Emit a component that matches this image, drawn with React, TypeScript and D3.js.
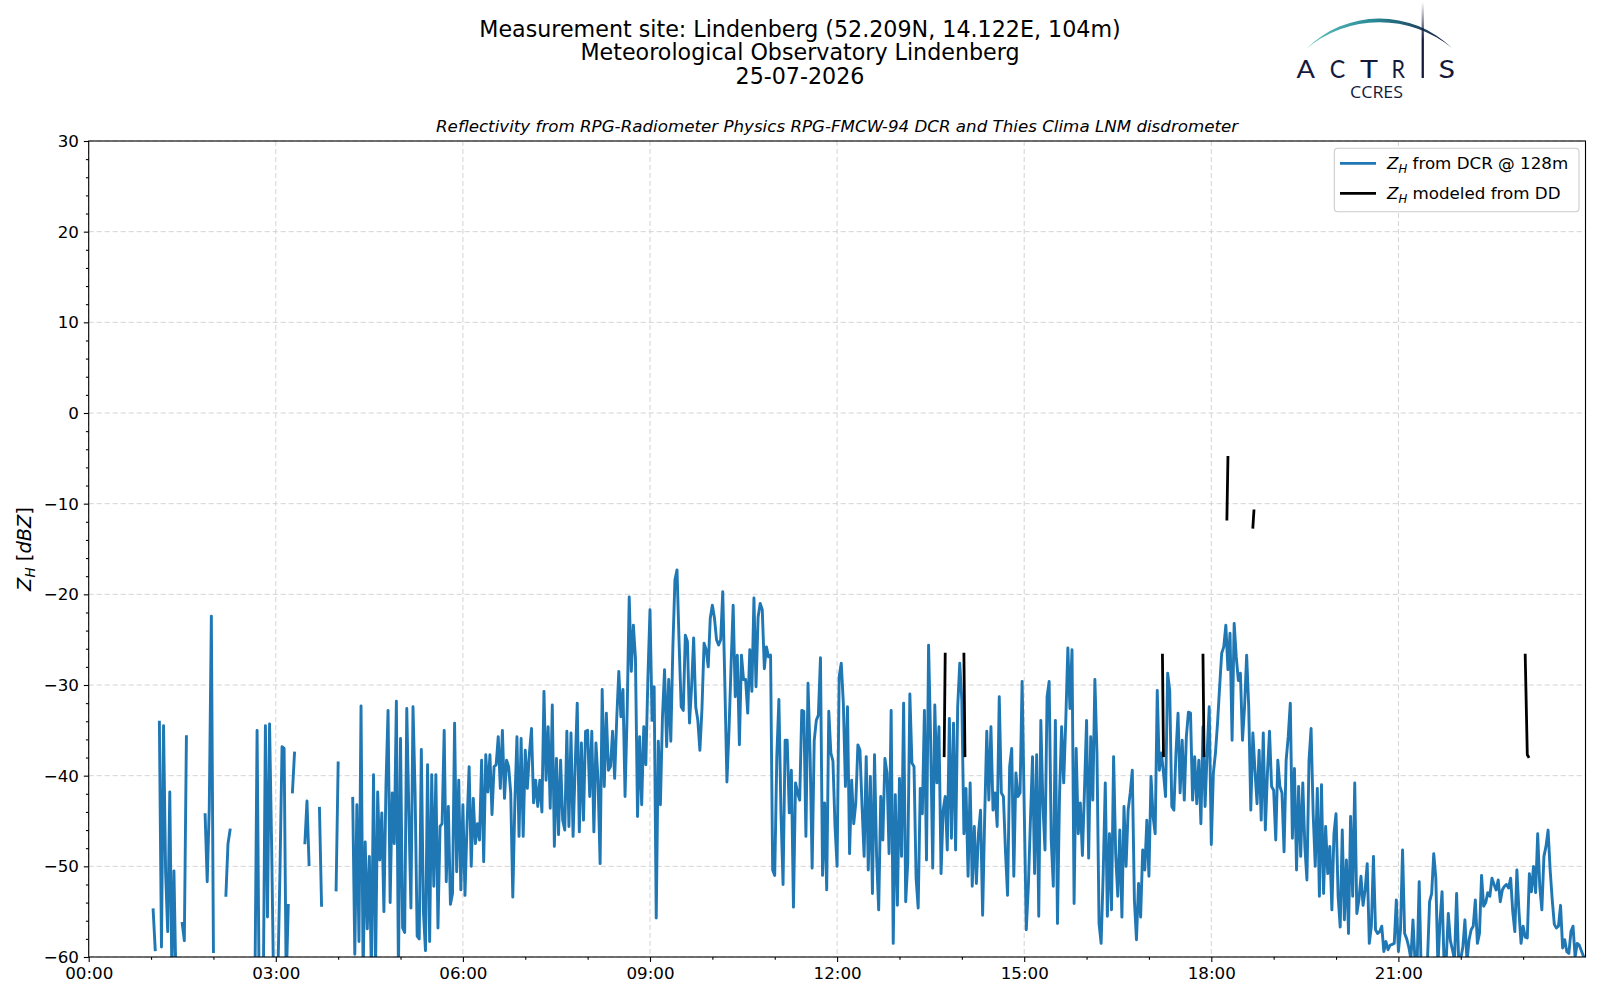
import React, { useRef, useEffect } from "react";
import * as d3 from "d3";

// DCR reflectivity at 128 m [dBZ], 2-minute steps, one array per hour (null = no echo)
const stepMinutes = 2;
const dcrFirstHour = 1;
const dcr01 = [null, -54.8, -59.2, null, -34.1, -58.9, -34.5, -50.7, -57.2, -41.8, -62, -50.5, -63, null, null, -56.3, -58.2, -35.7, null, null, null, null, null, null, null, null, -44.3, -51.7, -43.5, -22.4];
const dcr02 = [-59.4, null, null, null, null, null, -53.2, -47.5, -46.0, null, null, null, null, null, null, null, null, null, null, null, -62, -35.0, -64, -64, -63, -34.5, -55.6, -34.3, -47.8, -64];
const dcr03 = [-64, -62, -50.6, -36.8, -37, -63, -54.3, null, -41.8, -37.5, null, null, null, null, -47.4, -42.8, -49.8, null, null, null, null, -43.6, -54.3, null, null, null, null, null, null, -52.6];
const dcr04 = [-38.6, null, null, null, null, null, null, -42.5, -59.7, -43.2, -58.3, -32.3, -62, -47.3, -56.9, -48.9, -62, -39.9, -61, -41.8, -49.3, -44.1, -55, -41, -32.8, -54, -41.9, -47.5, -31.8, -62];
const dcr05 = [-35.9, -56.8, -57.3, -32.6, -44.1, -54.6, -32.4, -41.8, -57.7, -58, -37.1, -55, -59.3, -38.8, -58.3, -39.9, -52.2, -39.9, -56.8, -45.6, -45.3, -35, -51.7, -43.4, -54.2, -53, -34.2, -50.6, -40.5, -52.6];
const dcr06 = [-43.2, -53.2, -45.3, -39, -50, -42.5, -47.5, -45.3, -47.1, -38.3, -49.5, -37.7, -41.8, -37.7, -44.3, -39, -38.8, -35.7, -41.4, -35, -42.5, -38.3, -39, -41.9, -53.4, -42.9, -35.7, -46.7, -35.9, -46.7];
const dcr07 = [-37.2, -41.4, -37.5, -34.8, -43, -40.5, -43.4, -40.5, -44, -30.7, -40.5, -34.6, -43.6, -32.2, -47.8, -38.1, -46.5, -38.3, -44.9, -46, -35.1, -45.6, -35.3, -46.7, -39, -32, -46.2, -36.4, -44.9, -35.1];
const dcr08 = [-35, -42.3, -35.1, -46.2, -36.4, -40.5, -49.7, -30.5, -41.2, -33.1, -39.4, -39, -35.1, -40.3, -33.7, -28.5, -33.5, -30.5, -42.3, -33.1, -20.3, -28.5, -23.4, -27, -44.5, -35.7, -43.2, -34.6, -38.8, -29.1];
const dcr09 = [-21.7, -33.9, -30.2, -55.7, -36.2, -43.2, -33.5, -28.3, -36.8, -29.4, -36.2, -25.8, -18.4, -17.3, -25.4, -32.4, -32.8, -24.5, -25.2, -34.2, -30.2, -24.8, -32.4, -33.9, -37.2, -32.6, -25.4, -26.1, -28, -22.6];
const dcr10 = [-21.2, -22.6, -25, -25.6, -25, -19.7, -29.8, -40.7, -35, -27.8, -21.2, -31.3, -26.7, -36.6, -26.7, -29.4, -29.4, -33.1, -26.1, -30.7, -20.4, -30.2, -22.5, -21, -21.7, -28.2, -25.8, -26.9, -26.7, -50.4];
const dcr11 = [-51, -37.9, -31.6, -44.1, -52, -36.1, -36.1, -44.1, -39.4, -54.5, -40.8, -41.9, -42.7, -32.8, -32.9, -46.7, -29.8, -37.5, -50.2, -36.1, -33.9, -33.3, -27, -51, -43, -52.6, -32.9, -37.5, -38.4, -45.6];
const dcr12 = [-50, -29.1, -27.6, -32, -41.2, -32.4, -48.6, -40.5, -45.3, -43, -36.6, -37.2, -43.4, -48.9, -37.9, -50.4, -40.1, -53, -37.7, -48.9, -54.8, -42.3, -47.1, -38.1, -39.7, -48.6, -32.8, -58.5, -42.1, -54.3];
const dcr13 = [-40.3, -48.9, -32, -53.9, -49.5, -31, -38.6, -39, -51.3, -54.6, -41.4, -44.2, -32.8, -49.3, -25.6, -36.1, -50.2, -32.2, -40.8, -34.6, -50.8, -43.8, -42.3, -48.2, -33.7, -46.9, -34.2, -48.2, -32.4, -27.6];
const dcr14 = [-31.7, -46.4, -41.4, -51.1, -40.8, -52.2, -45.6, -51.9, -46.4, -43.8, -55.4, -44.5, -35.1, -42.7, -34.6, -43.8, -41.9, -45.6, -31.3, -41.9, -42.3, -48.4, -53.2, -39, -37, -51.1, -39.7, -42.3, -41.9, -29.6];
const dcr15 = [-43.4, -57, -52.2, -44.9, -37.9, -50.8, -37.7, -55.5, -33.9, -43.2, -48.2, -31.3, -29.6, -47.1, -52.2, -33.9, -56.3, -42.1, -34.6, -40.8, -33.9, -25.9, -32.6, -26.1, -54.1, -37, -46.4, -43, -48.8, -41.6];
const dcr16 = [-33.9, -49.1, -35.7, -42.7, -29.4, -37.5, -56.3, -58.5, -50.8, -40.8, -55.5, -46.4, -54.8, -37.9, -48.6, -53.3, -46, -55.6, -43.4, -50, -43.8, -41.9, -39.4, -53.7, -58.1, -51.9, -55.6, -48.2, -50.4, -44.9];
const dcr17 = [-51.1, -40.1, -44.5, -46.4, -30.6, -39.4, -37.5, -39.7, -42.3, -28.7, -30.6, -43.4, -43.8, -37.5, -33.1, -41.9, -36.1, -42.7, -35.7, -33, -33.1, -42.7, -37.9, -43.1, -38.3, -45.3, -34.6, -43.4, -37.5, -32.4];
const dcr18 = [-47.6, -39.7, -37.5, -34.2, -30.2, -26.5, -25.8, -23.4, -28.3, -24.3, -36.1, -23.2, -26.9, -29.5, -28.7, -36.1, -32.4, -26.7, -32.4, -43.8, -35.3, -39.4, -43.1, -37.2, -44.9, -35.3, -46, -39.7, -35.1, -41.2];
const dcr19 = [-41.6, -47.1, -38.3, -41.2, -41.9, -48.4, -38.3, -35.7, -32, -46.9, -39.2, -50.4, -41.2, -48.9, -40.8, -47.8, -51.5, -38.3, -34.8, -44.2, -50, -41.4, -53.3, -41, -53, -45.6, -50.8, -47.8, -54.8, -46.4];
const dcr20 = [-44.2, -53.3, -56.7, -46, -55.9, -49.3, -57.4, -44.5, -53.3, -40.8, -55.2, -53.7, -51.1, -54.3, -52.6, -49.7, -58.5, -56.6, -48.9, -57, -57.4, -57.2, -56.6, -59.4, -58.3, -59.2, -58.7, -58.6, -58.5, -53.7];
const dcr21 = [-59.4, -57, -48.2, -57.4, -58, -58.9, -60.2, -55.9, -60.5, -60.8, -51.7, -62, -64, -64, -60.3, -53.9, -53, -48.6, -51.3, -61, -56.1, -52.8, -61, -60.3, -55.2, -58.2, -59.2, -60.3, -53, -60.5];
const dcr22 = [-60.2, -58.9, -55.9, -60.5, -58.1, -57, -56.6, -53.7, -58.5, -57.4, -51, -54.4, -54, -52.9, -53.3, -51.3, -52, -52.6, -51.5, -53.9, -52.6, -52.2, -52, -52.4, -51.3, -55, -57.2, -50.4, -55, -58.5];
const dcr23 = [-56.6, -57.8, -57.9, -50.8, -52.8, -50, -52.9, -46.4, -52.2, -54.8, -48.9, -47.8, -46, -50.4, -53.7, -56.4, -56.8, -56.6, -54.3, -59, -58.1, -59.4, -59.6, -57.2, -56.6, -60, -58.5, -58.7, -59.3, -59.9];
const dcrHours = [dcr01, dcr02, dcr03, dcr04, dcr05, dcr06, dcr07, dcr08, dcr09, dcr10, dcr11, dcr12, dcr13, dcr14, dcr15, dcr16, dcr17, dcr18, dcr19, dcr20, dcr21, dcr22, dcr23];

// Z_H modeled from disdrometer (null breaks the line)
const ddTimes = ["13:43", "13:44", null, "14:02", "14:03", null, "17:13", "17:14", null, "17:52", "17:53", null, "18:15", "18:16", null, "18:40", "18:41", null, "23:02", "23:04", "23:05"];
const ddValues = [-37.8, -26.6, null, -26.6, -37.8, null, -26.7, -37.8, null, -26.7, -37.8, null, -11.7, -4.9, null, -12.6, -10.8, null, -26.7, -37.7, -37.9];

const xTickLabels = ["00:00", "03:00", "06:00", "09:00", "12:00", "15:00", "18:00", "21:00"];
const yTicks = [-60, -50, -40, -30, -20, -10, 0, 10, 20, 30];

const titleLines = [
  "Measurement site: Lindenberg (52.209N, 14.122E, 104m)",
  "Meteorological Observatory Lindenberg",
  "25-07-2026",
];
const subTitle = "Reflectivity from RPG-Radiometer Physics RPG-FMCW-94 DCR and Thies Clima LNM disdrometer";

// logo letters: glyph, centre x, drawn width (the "I" is the mast)
const logoLetters: [string, number, number][] = [
  ["A", 1305.8, 18.5],
  ["C", 1337.5, 15.5],
  ["T", 1369, 18],
  ["R", 1398.3, 13.5],
  ["S", 1446.7, 16.5],
];

const chart_width = 1600;
const chart_height = 1000;
const plotLeft = 88.7;
const plotRight = 1585.5;
const plotTop = 141;
const plotBottom = 957;
const font = "DejaVu Sans, sans-serif";
const blue = "#1f77b4";
const navy = "#151a3d";

const toMinutes = (s: string) => {
  const [h, m] = s.split(":").map(Number);
  return h * 60 + m;
};

type Pt = { t: number; v: number | null };

const App: React.FC = () => {
  const d3Container = useRef<SVGGElement>(null);

  useEffect(() => {
    if (!d3Container.current) return;
    const g = d3.select(d3Container.current);
    g.selectAll("*").remove();

    const x = d3.scaleLinear().domain([0, 1440]).range([plotLeft, plotRight]);
    const y = d3.scaleLinear().domain([-60, 30]).range([plotBottom, plotTop]);

    const xMajor = xTickLabels.map(toMinutes);
    const xMinor = d3.range(60, 1440, 60).filter((m) => m % 180 !== 0);
    const yMinor = d3.range(-58, 30, 2).filter((v) => v % 10 !== 0);

    // grid
    const grid = g.append("g");
    grid
      .selectAll("line.gx")
      .data(xMajor)
      .enter()
      .append("line")
      .attr("x1", (d) => x(d))
      .attr("x2", (d) => x(d))
      .attr("y1", plotTop)
      .attr("y2", plotBottom);
    grid
      .selectAll("line.gy")
      .data(yTicks)
      .enter()
      .append("line")
      .attr("x1", plotLeft)
      .attr("x2", plotRight)
      .attr("y1", (d) => y(d))
      .attr("y2", (d) => y(d));
    grid
      .selectAll("line")
      .attr("stroke", "#d3d3d3")
      .attr("stroke-width", 1)
      .attr("stroke-dasharray", "5,3");

    g.append("clipPath")
      .attr("id", "plot-clip")
      .append("rect")
      .attr("x", plotLeft)
      .attr("y", plotTop)
      .attr("width", plotRight - plotLeft)
      .attr("height", plotBottom - plotTop);

    const dcrPoints: Pt[] = dcrHours.flatMap((vals, h) =>
      vals.map((v, i) => ({ t: (h + dcrFirstHour) * 60 + i * stepMinutes, v }))
    );
    const ddPoints: Pt[] = ddTimes.map((t, i) => ({
      t: t === null ? 0 : toMinutes(t),
      v: t === null ? null : ddValues[i],
    }));

    const line = d3
      .line<Pt>()
      .defined((d) => d.v !== null)
      .x((d) => x(d.t))
      .y((d) => y(d.v as number));

    g.append("path")
      .datum(dcrPoints)
      .attr("d", line)
      .attr("fill", "none")
      .attr("stroke", blue)
      .attr("stroke-width", 2.9)
      .attr("stroke-linejoin", "round")
      .attr("stroke-linecap", "square")
      .attr("clip-path", "url(#plot-clip)");

    g.append("path")
      .datum(ddPoints)
      .attr("d", line)
      .attr("fill", "none")
      .attr("stroke", "#000")
      .attr("stroke-width", 2.8)
      .attr("stroke-linejoin", "round")
      .attr("stroke-linecap", "square")
      .attr("clip-path", "url(#plot-clip)");

    // axes
    const xAxis = d3
      .axisBottom(x)
      .tickValues(xMajor)
      .tickFormat((_, i) => xTickLabels[i])
      .tickSize(4.9)
      .tickPadding(4.9);
    const xAxisMinor = d3.axisBottom(x).tickValues(xMinor).tickFormat(() => "").tickSize(2.8);
    const yAxis = d3
      .axisLeft(y)
      .tickValues(yTicks)
      .tickFormat((d) => ((d as number) < 0 ? "\u2212" + Math.abs(d as number) : String(d)))
      .tickSize(4.9)
      .tickPadding(4.9);
    const yAxisMinor = d3.axisLeft(y).tickValues(yMinor).tickFormat(() => "").tickSize(2.8);

    const axes = [
      g.append("g").attr("transform", "translate(0," + plotBottom + ")").call(xAxis),
      g.append("g").attr("transform", "translate(0," + plotBottom + ")").call(xAxisMinor),
      g.append("g").attr("transform", "translate(" + plotLeft + ",0)").call(yAxis),
      g.append("g").attr("transform", "translate(" + plotLeft + ",0)").call(yAxisMinor),
    ];
    axes.forEach((a) => {
      a.select(".domain").remove();
      a.attr("font-size", 16.7).attr("font-family", font);
      a.selectAll("line").attr("stroke", "#000").attr("stroke-width", 1.1);
      a.selectAll("text").attr("fill", "#000");
    });

    g.append("rect")
      .attr("x", plotLeft)
      .attr("y", plotTop)
      .attr("width", plotRight - plotLeft)
      .attr("height", plotBottom - plotTop)
      .attr("fill", "none")
      .attr("stroke", "#000")
      .attr("stroke-width", 1.1);
  }, []);

  const legendRows = [
    { label: " from DCR @ 128m", color: blue },
    { label: " modeled from DD", color: "#000" },
  ];

  return (
    <div style={{ position: "absolute", left: 0, top: 0, width: chart_width, height: chart_height, background: "#fff" }}>
      <svg width={chart_width} height={chart_height} fontFamily={font}>
        <defs>
          <linearGradient id="arcGrad" x1="1306" y1="0" x2="1452" y2="0" gradientUnits="userSpaceOnUse">
            <stop offset="0" stopColor="#62c3bd" />
            <stop offset="0.45" stopColor="#2a8b99" />
            <stop offset="1" stopColor={navy} />
          </linearGradient>
          <linearGradient id="mastGrad" x1="0" y1="2" x2="0" y2="40" gradientUnits="userSpaceOnUse">
            <stop offset="0" stopColor={navy} stopOpacity="0" />
            <stop offset="1" stopColor={navy} stopOpacity="1" />
          </linearGradient>
        </defs>

        {titleLines.map((t, i) => (
          <text key={t} x={800} y={37 + i * 23.3} textAnchor="middle" fontSize={22.2} fill="#000">
            {t}
          </text>
        ))}
        <text x={(plotLeft + plotRight) / 2} y={131.5} textAnchor="middle" fontSize={16.7} fontStyle="italic" fill="#000">
          {subTitle}
        </text>

        {/* logo */}
        <g>
          <path d="M1306,49 A104,104 0 0 1 1452,48 A115,115 0 0 0 1306,49 Z" fill="url(#arcGrad)" />
          <rect x={1421.6} y={2} width={2.3} height={76} fill="url(#mastGrad)" />
          {logoLetters.map(([ch, cx, w]) => (
            <text
              key={ch}
              x={cx - w / 2}
              y={78}
              fontSize={25}
              fontFamily="Lato, sans-serif"
              textLength={w}
              lengthAdjust="spacingAndGlyphs"
              fill={navy}
            >
              {ch}
            </text>
          ))}
          <text x={1350} y={98.3} fontSize={16} textLength={53} lengthAdjust="spacingAndGlyphs" fontFamily="Open Sans, sans-serif" fill={navy}>
            CCRES
          </text>
        </g>

        <g ref={d3Container} />

        {/* y label */}
        <text transform={"translate(30.5," + (plotTop + plotBottom) / 2 + ") rotate(-90)"} textAnchor="middle" fontSize={19.4} fill="#000">
          <tspan fontStyle="italic">Z</tspan>
          <tspan fontStyle="italic" fontSize={13.6} dy={4}>H</tspan>
          <tspan dy={-4}> [</tspan>
          <tspan fontStyle="italic">dBZ</tspan>
          <tspan>]</tspan>
        </text>

        {/* legend */}
        <rect x={1334.3} y={148.3} width={244.7} height={63.4} rx={3.5} fill="#fff" fillOpacity={0.8} stroke="#cccccc" strokeWidth={1.1} />
        {legendRows.map((r, i) => (
          <g key={r.label} transform={"translate(0," + (163.3 + i * 30) + ")"}>
            <line x1={1340} x2={1376} y1={0} y2={0} stroke={r.color} strokeWidth={2.8} />
            <text x={1387} y={6} fontSize={16.7} fill="#000">
              <tspan fontStyle="italic">Z</tspan>
              <tspan fontStyle="italic" fontSize={11.7} dy={3.5}>H</tspan>
              <tspan dy={-3.5}>{r.label}</tspan>
            </text>
          </g>
        ))}
      </svg>
    </div>
  );
};

export default App;
